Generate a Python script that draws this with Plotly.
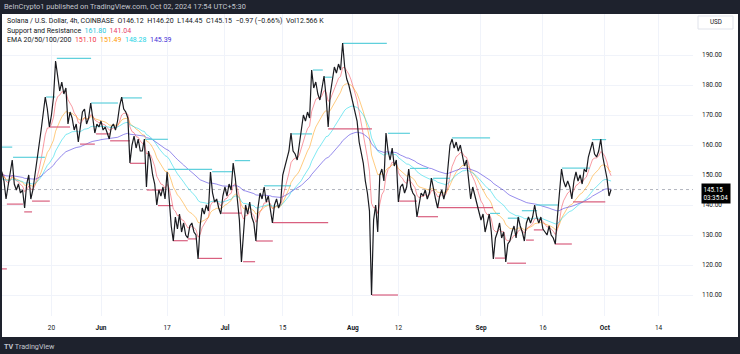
import plotly.graph_objects as go
import pandas as pd

# ---------------- data ----------------
# SOL/USD, sampled every 12 hours starting 2024-05-07 00:00 UTC (value in USD)
start_time = "2024-05-07 00:00"
price_12h = [
    155, 151, 151, 148, 142, 146, 150, 155, 147, 145, 147, 144, 145, 139, 147, 150,
    142, 145, 150, 156, 160, 165, 170, 176, 172, 166, 170, 176, 188, 182, 178, 181,
    177, 179, 167, 171, 169, 165, 167, 161, 166, 171, 172, 167, 169, 174, 169, 164,
    167, 166, 168, 165, 166, 164, 162, 166, 167, 165, 168, 173, 176, 172, 171, 169,
    154, 160, 163, 159, 162, 158, 158, 162, 146, 158, 155, 150, 147, 140, 145, 143,
    146, 142, 151, 142, 133, 128, 136, 132, 137, 131, 134, 130, 129, 133, 134, 131,
    130, 122, 133, 139, 137, 140, 138, 151, 144, 141, 142, 139, 137, 143, 146, 143,
    147, 145, 154, 149, 141, 135, 121, 130, 140, 137, 141, 136, 134, 128, 139, 144,
    142, 146, 141, 143, 138, 134, 140, 142, 139, 141, 150, 153, 156, 158, 164, 158,
    157, 155, 160, 166, 170, 168, 171, 169, 185, 179, 181, 177, 175, 179, 183, 176,
    166, 177, 182, 186, 184, 187, 185, 194, 186, 182, 180, 177, 174, 170, 168, 161,
    158, 154, 148, 144, 138, 110, 135, 140, 131, 150, 152, 148, 164, 158, 155, 159,
    153, 155, 141, 146, 147, 144, 146, 152, 146, 144, 143, 136, 140, 144, 143, 145,
    142, 144, 149, 145, 142, 139, 143, 145, 142, 145, 153, 160, 162, 159, 161, 158,
    160, 157, 153, 155, 148, 142, 146, 143, 140, 137, 135, 137, 131, 134, 137, 131,
    122, 129, 131, 134, 129, 131, 121, 127, 128, 131, 133, 129, 136, 133, 131, 128,
    134, 136, 134, 136, 140, 136, 134, 136, 132, 131, 130, 133, 130, 129, 127, 136,
    143, 152, 148, 146, 148, 146, 142, 148, 151, 148, 150, 147, 152, 151, 156, 159,
    161, 157, 156, 158, 162, 156, 153, 149, 143, 145.15,
]

# EMA lengths (4h bars) and their values at the left edge of the chart
ema_lengths = [20, 50, 100, 200]
ema_start_values = [149.0, 148.5, 148.0, 149.8]
ema_last_values = ["151.10", "151.49", "148.28", "145.39"]

# Support / resistance levels: start day, end day (days after 2024-05-08), level
res_start = [-2, 2.7, 10.7, 13.3, 21.6, 29.1, 34.7, 40.2, 50.9, 56.4, 63.5, 70.2, 75.3,
             78.0, 82.6, 93.5, 98.8, 104.4, 109.0, 118.2, 122.5, 125.9, 129.3, 135.6, 142.9]
res_end = [2.5, 10.4, 12.9, 21.6, 28.1, 33.9, 40.2, 50.9, 56.0, 60.1, 70.0, 75.1, 77.7,
           79.9, 93.2, 98.8, 103.2, 108.5, 118.2, 120.6, 125.4, 129.6, 134.6, 142.4, 146.3]
res_level = [159.3, 155.9, 176.0, 188.9, 174.0, 175.7, 161.9, 151.9, 151.1, 154.8, 146.4,
             163.7, 185.0, 182.6, 193.9, 163.9, 152.2, 148.9, 162.4, 137.2, 135.6, 138.1,
             140.0, 152.3, 161.8]
sup_start = [-2, 1.2, 5.4, 7.3, 11.6, 18.9, 22.8, 26.2, 31.0, 35.1, 37.8, 41.4, 45.0, 47.7,
             53.3, 58.4, 61.5, 65.6, 79.0, 89.6, 96.2, 100.7, 105.6, 119.4, 122.3, 126.9,
             128.8, 133.9, 138.3]
sup_end = [1.2, 5.1, 7.3, 11.6, 16.5, 22.5, 26.2, 31.0, 34.7, 38.8, 41.4, 45.0, 47.2, 53.3,
           58.1, 61.3, 65.6, 79.0, 89.6, 95.9, 100.5, 105.6, 118.9, 121.8, 126.9, 128.8,
           131.0, 138.0, 146.1]
sup_level = [118.7, 140.3, 137.7, 141.3, 166.0, 160.3, 163.7, 161.4, 153.9, 145.0, 139.8,
             128.1, 128.7, 122.2, 137.3, 121.1, 128.0, 134.1, 165.4, 110.0, 141.3, 136.1,
             139.1, 122.3, 120.6, 128.3, 131.7, 127.0, 141.04]

price_ticks = [110, 120, 130, 140, 150, 160, 170, 180, 190]
time_tick_dates = ["2024-05-20", "2024-06-01", "2024-06-17", "2024-07-01", "2024-07-15",
                   "2024-08-01", "2024-08-12", "2024-09-01", "2024-09-16", "2024-10-01",
                   "2024-10-14"]
time_tick_text = ["20", "<b>Jun</b>", "17", "<b>Jul</b>", "15", "<b>Aug</b>", "12",
                  "<b>Sep</b>", "16", "<b>Oct</b>", "14"]
last_price = 145.15

# ---------------- derived series ----------------
t0 = pd.Timestamp(start_time)
times = [t0 + pd.Timedelta(hours=12 * i) for i in range(len(price_12h))]
day0 = pd.Timestamp("2024-05-08 00:00")


def day_to_time(d):
    return day0 + pd.Timedelta(hours=24 * d)


def ema(values, length, seed):
    a4 = 2.0 / (length + 1)
    a = 1 - (1 - a4) ** 3  # 4h smoothing expressed on 12h samples
    out, e = [], seed
    for v in values:
        e = e + a * (v - e)
        out.append(e)
    return out


# ---------------- figure ----------------
W, H = 740, 354
ML, MR, MT, MB = 2, 47, 14, 38
PW, PH = W - ML - MR, H - MT - MB


def pxx(px):
    return (px - ML) / PW


def pxy(py):
    return (H - MB - py) / PH


FONT = "Roboto"
DARK = "#1e222d"
TXT = "#131722"

fig = go.Figure()

ema_colors = ["rgba(242,54,69,0.5)", "rgba(255,152,0,0.5)", "rgba(0,212,230,0.5)",
              "rgba(63,45,220,0.55)"]
for L, s, c in zip(ema_lengths, ema_start_values, ema_colors):
    fig.add_trace(go.Scatter(x=times, y=ema(price_12h, L, s), mode="lines",
                             line=dict(color=c, width=1), hoverinfo="skip"))


def seg_xy(st, en, lv):
    xs, ys = [], []
    for a, b, v in zip(st, en, lv):
        xs += [day_to_time(a), day_to_time(b), None]
        ys += [v, v, None]
    return xs, ys


rx, ry = seg_xy(res_start, res_end, res_level)
sx, sy = seg_xy(sup_start, sup_end, sup_level)
fig.add_trace(go.Scatter(x=rx, y=ry, mode="lines", line=dict(color="#5fd0dc", width=1.2),
                         hoverinfo="skip"))
fig.add_trace(go.Scatter(x=sx, y=sy, mode="lines", line=dict(color="#d9607f", width=1.2),
                         hoverinfo="skip"))

fig.add_trace(go.Scatter(x=times, y=price_12h, mode="lines",
                         line=dict(color="#1a1b20", width=1.2), hoverinfo="skip"))

x_left = day_to_time((ML - 1.9) / 4.13)
x_right = day_to_time((W - MR - 1.9) / 4.13)

fig.update_layout(
    width=W, height=H, margin=dict(l=ML, r=MR, t=MT, b=MB),
    paper_bgcolor="white", plot_bgcolor="white", showlegend=False,
    font=dict(family=FONT, color=TXT, size=6.5),
    xaxis=dict(range=[x_left, x_right], type="date", tickvals=time_tick_dates,
               ticktext=time_tick_text, showgrid=True, gridcolor="#f0f3fa", gridwidth=1,
               zeroline=False, showline=False, ticks="", ticklabelstandoff=6,
               tickfont=dict(size=6.5, color=TXT, family=FONT)),
    yaxis=dict(range=[103, 203.67], side="right", tickvals=price_ticks,
               ticktext=[f"{v:.2f}" for v in price_ticks], showgrid=True,
               gridcolor="#f0f3fa", gridwidth=1, zeroline=False, showline=False,
               ticks="", ticklabelstandoff=8,
               tickfont=dict(size=6.5, color=TXT, family=FONT)),
)

shapes = [
    # dotted last-price line
    dict(type="line", xref="paper", yref="y", x0=0, x1=1, y0=last_price, y1=last_price,
         line=dict(color="#b2b5be", width=1, dash="dot"), layer="below"),
    # dark frame
    dict(type="rect", xref="paper", yref="paper", x0=pxx(0), x1=pxx(W), y0=pxy(14),
         y1=pxy(0), fillcolor=DARK, line=dict(width=0), layer="above"),
    dict(type="rect", xref="paper", yref="paper", x0=pxx(0), x1=pxx(W), y0=pxy(H),
         y1=pxy(337), fillcolor=DARK, line=dict(width=0), layer="above"),
    dict(type="rect", xref="paper", yref="paper", x0=pxx(0), x1=pxx(2), y0=pxy(H),
         y1=pxy(0), fillcolor=DARK, line=dict(width=0), layer="above"),
    dict(type="rect", xref="paper", yref="paper", x0=pxx(738), x1=pxx(W), y0=pxy(H),
         y1=pxy(0), fillcolor=DARK, line=dict(width=0), layer="above"),
    # USD box
    dict(type="rect", xref="paper", yref="paper", x0=pxx(698), x1=pxx(733), y0=pxy(29),
         y1=pxy(16), fillcolor="white", line=dict(color="#e0e3eb", width=1), layer="above"),
]
fig.update_layout(shapes=shapes)

ann = []


def add_text(px, py, text, color=TXT, size=7.0, anchor="left", bg=None):
    ann.append(dict(xref="paper", yref="paper", x=pxx(px), y=pxy(py), text=text,
                    showarrow=False, xanchor=anchor, yanchor="middle",
                    font=dict(family=FONT, size=size, color=color),
                    bgcolor=bg, borderpad=0))


add_text(3, 6.5, "BeInCrypto1 published on TradingView.com, Oct 02, 2024 17:54 UTC+5:30",
         color="#c3c6ce", size=7.4)
add_text(6, 21.5, "Solana / U.S. Dollar, 4h, COINBASE&nbsp;&nbsp;O146.12&nbsp;&nbsp;H146.20"
         "&nbsp;&nbsp;L144.45&nbsp;&nbsp;C145.15&nbsp;&nbsp;−0.97 (−0.66%)&nbsp;&nbsp;Vol12.566 K")
add_text(6, 31, "Support and Resistance&nbsp;&nbsp;<span style='color:#26c6da'>161.80</span>"
         "&nbsp;&nbsp;<span style='color:#e8436a'>141.04</span>")
leg_cols = ["#f23645", "#ff9800", "#26d4e6", "#3f2fd6"]
ema_txt = "EMA 20/50/100/200" + "".join(
    f"&nbsp;&nbsp;<span style='color:{c}'>{v}</span>" for c, v in zip(leg_cols, ema_last_values))
add_text(6, 40.5, ema_txt)
add_text(715.5, 22.5, "USD", anchor="center", size=6.3)
add_text(3, 346, "<b>TV</b> TradingView", color="#c3c6ce", size=7.2)
fig.update_layout(annotations=ann)

# last price label on the price scale
fig.add_annotation(xref="paper", yref="y", x=pxx(715.5), y=last_price, yshift=-4,
                   text="145.15<br>03:35:04", showarrow=False, xanchor="center",
                   yanchor="middle", align="left", bgcolor="#000000", borderpad=1.5,
                   font=dict(family=FONT, size=6.3, color="white"))

fig.write_html("out.html")
